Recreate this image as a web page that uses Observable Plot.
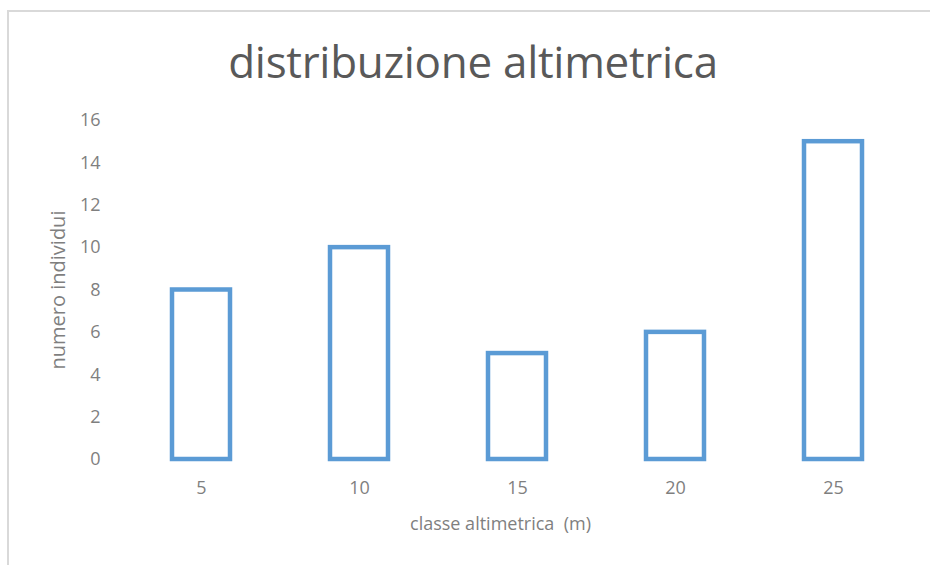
<!DOCTYPE html>
<html>
<head>
<meta charset="utf-8">
<script src="https://cdn.jsdelivr.net/npm/d3@7"></script>
<script src="https://cdn.jsdelivr.net/npm/@observablehq/plot@0.6"></script>
<style>
  html, body { margin: 0; padding: 0; background: #fff; }
  #chart { position: relative; width: 930px; height: 565px; overflow: hidden; font-family: "Open Sans", sans-serif; }
  #frame { position: absolute; left: 7px; top: 10px; width: 940px; height: 570px;
           border-left: 2px solid #d9d9d9; border-top: 2px solid #d9d9d9; }
  #title { position: absolute; left: 0; top: 0; width: 930px; height: 100px; box-sizing: border-box;
           padding-left: 16px; text-align: center; line-height: 122px; font-size: 44px; color: #595959;
           letter-spacing: -0.3px; }
  #plot { position: absolute; left: 0; top: 100px; }
</style>
</head>
<body>
<div id="chart">
  <div id="frame"></div>
  <div id="title">distribuzione altimetrica</div>
  <div id="plot"></div>
</div>
<script>
// altitude classes (m) and number of individuals in each
const classes = ["5", "10", "15", "20", "25"];
const counts = [8, 10, 5, 6, 15];
const yTicks = [0, 2, 4, 6, 8, 10, 12, 14, 16];
const xLabel = "classe altimetrica  (m)";
const yLabel = "numero individui";

const data = classes.map((c, i) => ({classe: c, n: counts[i]}));

const textGray = "#7f7f7f";

const chart = Plot.plot({
  width: 930,
  height: 465,
  marginLeft: 122,
  marginRight: 18,
  marginTop: 20,
  marginBottom: 106,
  style: {fontFamily: "Open Sans, sans-serif", fontSize: "18px", color: textGray, background: "transparent"},
  // each category gets an equal slot; the bar fills the middle of it
  x: {domain: classes, paddingInner: 0.63, paddingOuter: 0.315, label: null},
  y: {domain: [0, 16], label: null},
  marks: [
    Plot.barY(data, {x: "classe", y: "n", fill: "none", stroke: "#5b9bd5", strokeWidth: 4.5}),
    Plot.axisY(yTicks, {tickSize: 0, tickPadding: 22, fontSize: 18, fill: textGray, label: null}),
    Plot.axisX(classes, {tickSize: 0, tickPadding: 22, fontSize: 18, fill: textGray, label: null}),
    Plot.text([xLabel], {frameAnchor: "bottom", dx: -17, dy: 70, fontSize: 18, fill: textGray,
      x: () => "15", text: d => d}),
    Plot.text([yLabel], {frameAnchor: "left", textAnchor: "middle", dx: -64, dy: 0, rotate: -90,
      fontSize: 20, fill: textGray, text: d => d})
  ]
});
document.getElementById("plot").appendChild(chart);
</script>
</body>
</html>
